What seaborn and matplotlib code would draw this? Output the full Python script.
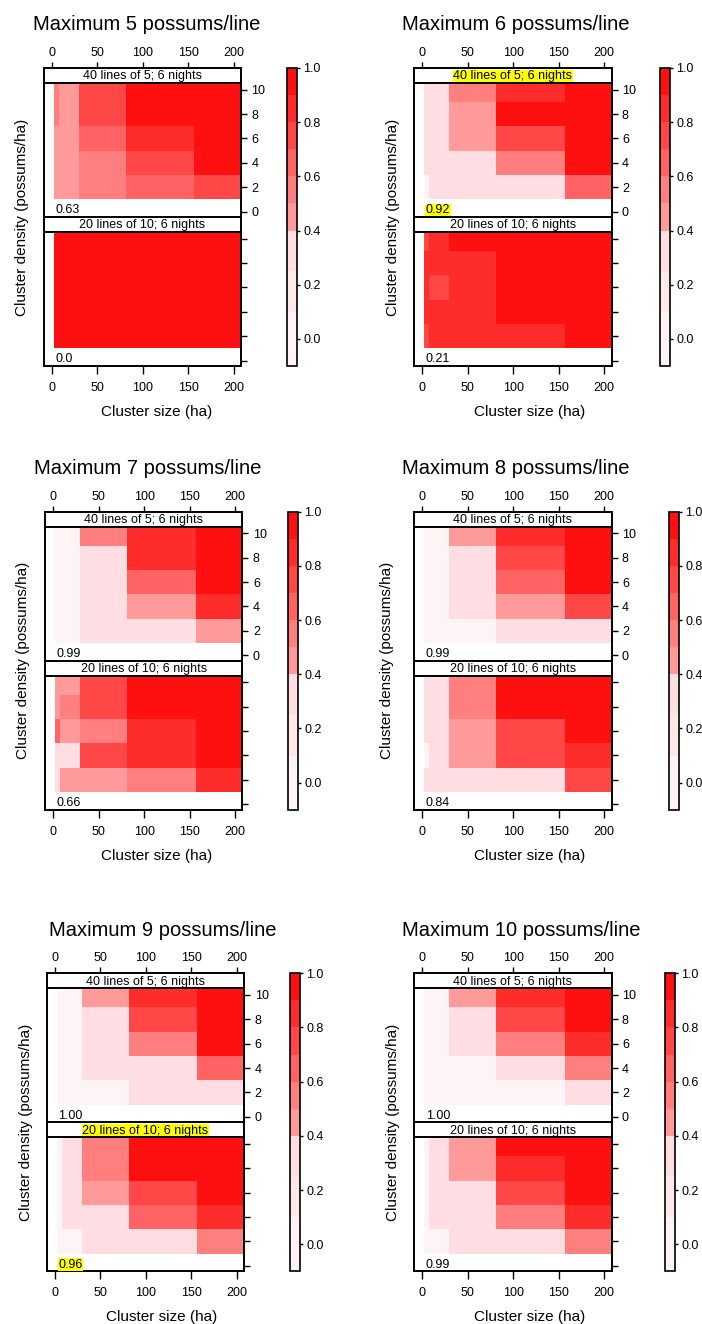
import numpy as np
import matplotlib
matplotlib.use("Agg")
import matplotlib.pyplot as plt
from matplotlib.colors import ListedColormap, BoundaryNorm
import matplotlib.cm as cm
import seaborn as sns

sns.set_style("white")
plt.rcParams['font.family'] = ['Liberation Sans', 'DejaVu Sans']
for k in ("text.color", "axes.labelcolor", "xtick.color", "ytick.color"):
    plt.rcParams[k] = "black"

# ---------------- data ----------------
cluster_size = [5, 10, 50, 113, 200]          # ha (column centres)
cluster_density = [10, 8, 6, 4, 2]            # possums/ha (rows, top to bottom)
x_ticks = [0, 50, 100, 150, 200]
y_ticks = [0, 2, 4, 6, 8, 10]
cbar_ticks = [0.0, 0.2, 0.4, 0.6, 0.8, 1.0]
levels = [-0.1, 0.1, 0.25, 0.4, 0.5, 0.6, 0.7, 0.8, 0.9, 1.0]
design_labels = ["40 lines of 5; 6 nights", "20 lines of 10; 6 nights"]
max_possums = [5, 6, 7, 8, 9, 10]

max5_40x5 = [[0.55, 0.45, 0.75, 0.95, 0.95],
             [0.55, 0.45, 0.75, 0.95, 0.95],
             [0.45, 0.45, 0.65, 0.85, 0.95],
             [0.45, 0.45, 0.55, 0.75, 0.95],
             [0.45, 0.45, 0.55, 0.65, 0.75]]
max5_20x10 = [[0.95, 0.95, 0.95, 0.95, 0.95],
              [0.95, 0.95, 0.95, 0.95, 0.95],
              [0.95, 0.95, 0.95, 0.95, 0.95],
              [0.95, 0.95, 0.95, 0.95, 0.95],
              [0.95, 0.95, 0.95, 0.95, 0.95]]
max6_40x5 = [[0.30, 0.30, 0.55, 0.85, 0.95],
             [0.30, 0.30, 0.45, 0.95, 0.95],
             [0.30, 0.30, 0.45, 0.75, 0.95],
             [0.30, 0.30, 0.30, 0.55, 0.95],
             [0.05, 0.30, 0.30, 0.30, 0.65]]
max6_20x10 = [[0.75, 0.85, 0.95, 0.95, 0.95],
              [0.85, 0.85, 0.85, 0.95, 0.95],
              [0.85, 0.75, 0.85, 0.95, 0.95],
              [0.85, 0.85, 0.85, 0.95, 0.95],
              [0.75, 0.85, 0.85, 0.85, 0.95]]
max7_40x5 = [[0.05, 0.05, 0.55, 0.85, 0.95],
             [0.05, 0.05, 0.30, 0.85, 0.95],
             [0.05, 0.05, 0.30, 0.65, 0.95],
             [0.05, 0.05, 0.30, 0.45, 0.85],
             [0.05, 0.05, 0.30, 0.30, 0.45]]
max7_20x10 = [[0.45, 0.45, 0.75, 0.95, 0.95],
              [0.45, 0.55, 0.75, 0.95, 0.95],
              [0.65, 0.45, 0.55, 0.85, 0.95],
              [0.30, 0.30, 0.75, 0.85, 0.95],
              [0.30, 0.45, 0.45, 0.55, 0.85]]
max8_40x5 = [[0.05, 0.05, 0.45, 0.85, 0.95],
             [0.05, 0.05, 0.30, 0.75, 0.95],
             [0.05, 0.05, 0.30, 0.65, 0.95],
             [0.05, 0.05, 0.30, 0.45, 0.75],
             [0.05, 0.05, 0.05, 0.30, 0.30]]
max8_20x10 = [[0.30, 0.30, 0.55, 0.95, 0.95],
              [0.30, 0.30, 0.55, 0.95, 0.95],
              [0.30, 0.30, 0.45, 0.75, 0.95],
              [0.05, 0.30, 0.45, 0.75, 0.85],
              [0.30, 0.30, 0.30, 0.30, 0.75]]
max9_40x5 = [[0.05, 0.05, 0.45, 0.85, 0.95],
             [0.05, 0.05, 0.30, 0.75, 0.95],
             [0.05, 0.05, 0.30, 0.55, 0.95],
             [0.05, 0.05, 0.30, 0.30, 0.65],
             [0.05, 0.05, 0.05, 0.30, 0.30]]
max9_20x10 = [[0.05, 0.30, 0.55, 0.95, 0.95],
              [0.05, 0.30, 0.55, 0.95, 0.95],
              [0.05, 0.30, 0.45, 0.75, 0.95],
              [0.05, 0.30, 0.30, 0.65, 0.85],
              [0.05, 0.05, 0.30, 0.30, 0.55]]
max10_40x5 = [[0.05, 0.05, 0.45, 0.85, 0.95],
              [0.05, 0.05, 0.30, 0.75, 0.95],
              [0.05, 0.05, 0.30, 0.55, 0.85],
              [0.05, 0.05, 0.05, 0.30, 0.55],
              [0.05, 0.05, 0.05, 0.05, 0.30]]
max10_20x10 = [[0.05, 0.30, 0.45, 0.95, 0.95],
               [0.05, 0.30, 0.45, 0.85, 0.95],
               [0.05, 0.30, 0.30, 0.75, 0.95],
               [0.05, 0.30, 0.30, 0.55, 0.85],
               [0.05, 0.05, 0.30, 0.30, 0.55]]

top_values = [max5_40x5, max6_40x5, max7_40x5, max8_40x5, max9_40x5, max10_40x5]
bottom_values = [max5_20x10, max6_20x10, max7_20x10, max8_20x10, max9_20x10, max10_20x10]
top_notes = ["0.63", "0.92", "0.99", "0.99", "1.00", "1.00"]
bottom_notes = ["0.0", "0.21", "0.66", "0.84", "0.96", "0.99"]
# highlighted (yellow) texts: (panel index, which)
highlight = {(1, "strip_top"), (1, "note_top"), (4, "strip_bottom"), (4, "note_bottom")}

# ---------------- colours ----------------
light = ["#FFF4F5", "#FFE7EA", "#FFDEE3"]
reds = sns.blend_palette(["#FF9A9A", "#FF1010"], 6)
cmap = ListedColormap(light + [matplotlib.colors.to_hex(c) for c in reds])
norm = BoundaryNorm(levels, cmap.N)

# ---------------- helpers ----------------
W, H = 702, 1324
fig = plt.figure(figsize=(W / 100, H / 100), dpi=100)


def fbox(l, t, w, h):
    return [l / W, 1 - (t + h) / H, w / W, h / H]


def edges(v):
    v = np.asarray(v, dtype=float)
    mid = (v[:-1] + v[1:]) / 2
    return np.concatenate([[v[0] - (v[1] - v[0]) / 2], mid, [v[-1] + (v[-1] - v[-2]) / 2]])


xe = edges(cluster_size)
dens_sorted = np.asarray(cluster_density[::-1], dtype=float)
ye = edges(dens_sorted)
XLIM = (-9, 208)
YLIM = (-0.45, 10.55)

row_tops = [68, 511.7, 973.3]
lefts = [[43.5, 414], [45, 414], [46.7, 414]]
cbar_lefts = [[287, 660], [288, 669], [290, 665]]
title_xs = [[147, 516], [147.5, 516], [162.5, 521.7]]
xlabel_xs = [[157, 530], [157, 530], [161.7, 530]]
ylabel_xs = [[22, 393], [23, 387], [26, 393]]
PW, SH, PH = 197.5, 15, 134
LW = 1.4
FS = 9


def style_spines(ax):
    for s in ax.spines.values():
        s.set_visible(True)
        s.set_color("black")
        s.set_linewidth(LW)


for i in range(6):
    r, c = divmod(i, 2)
    t = row_tops[r]
    left = lefts[r][c]

    s1 = fig.add_axes(fbox(left, t, PW, SH))
    p1 = fig.add_axes(fbox(left, t + SH, PW, PH))
    s2 = fig.add_axes(fbox(left, t + SH + PH, PW, SH))
    p2 = fig.add_axes(fbox(left, t + 2 * SH + PH, PW, PH))

    for ax in (s1, p1, s2, p2):
        ax.set_xlim(*XLIM)
        style_spines(ax)
        ax.set_facecolor("white")
    for ax in (s1, s2):
        ax.set_ylim(0, 1)
        ax.set_yticks([])

    # strips
    s1.xaxis.tick_top()
    s1.set_xticks(x_ticks)
    s1.tick_params(axis="x", top=True, labeltop=True, bottom=False, labelbottom=False,
                   direction="out", length=4, width=1, pad=2.5, labelsize=FS)
    s2.set_xticks([])
    for ax, lab, key in ((s1, design_labels[0], "strip_top"), (s2, design_labels[1], "strip_bottom")):
        bb = dict(facecolor="yellow", edgecolor="none", pad=0.3) if (i, key) in highlight else None
        ax.text(np.mean(XLIM), 0.45, lab, ha="center", va="center", fontsize=FS, bbox=bb)

    # panels
    for ax, vals, note, key, lab_on in ((p1, top_values[i], top_notes[i], "note_top", True),
                                         (p2, bottom_values[i], bottom_notes[i], "note_bottom", False)):
        Z = np.asarray(vals, dtype=float)[::-1]
        ax.pcolormesh(xe, ye, Z, cmap=cmap, norm=norm, shading="flat",
                      edgecolors="none", antialiased=False)
        ax.set_xlim(*XLIM)
        ax.set_ylim(*YLIM)
        ax.yaxis.tick_right()
        ax.set_yticks(y_ticks)
        ax.tick_params(axis="y", left=False, right=True, labelright=lab_on, labelleft=False,
                       direction="out", length=4.5, width=1, pad=3, labelsize=FS)
        bb = dict(facecolor="yellow", edgecolor="none", pad=0.3) if (i, key) in highlight else None
        ax.text(4, 0.1, note, ha="left", va="center", fontsize=FS, bbox=bb)

    p1.set_xticks([])
    p2.set_xticks(x_ticks)
    p2.tick_params(axis="x", bottom=True, labelbottom=True, top=False, labeltop=False,
                   direction="out", length=5.5, width=1, pad=6, labelsize=FS)

    # colour key
    cax = fig.add_axes(fbox(cbar_lefts[r][c], t, 10, 2 * SH + 2 * PH))
    sm = cm.ScalarMappable(norm=norm, cmap=cmap)
    cb = fig.colorbar(sm, cax=cax, ticks=cbar_ticks, boundaries=levels, spacing="proportional")
    cb.ax.minorticks_off()
    cb.ax.set_yticks(cbar_ticks)
    cb.ax.set_yticklabels([f"{v:.1f}" for v in cbar_ticks])
    cb.ax.tick_params(which="both", direction="out", length=2.5, width=1, pad=2, labelsize=FS)
    cb.ax.tick_params(which="minor", length=0)
    cb.outline.set_linewidth(1.2)
    cb.outline.set_edgecolor("black")

    # titles and axis labels
    fig.text(title_xs[r][c] / W, 1 - (t - 43) / H, f"Maximum {max_possums[i]} possums/line",
             ha="center", va="center", fontsize=14.5)
    fig.text(xlabel_xs[r][c] / W, 1 - (t + 2 * SH + 2 * PH + 46) / H, "Cluster size (ha)",
             ha="center", va="center", fontsize=11)
    fig.text(ylabel_xs[r][c] / W, 1 - (t + SH + PH) / H, "Cluster density (possums/ha)",
             ha="center", va="center", rotation=90, fontsize=11)

fig.savefig("out.png", dpi=100)
